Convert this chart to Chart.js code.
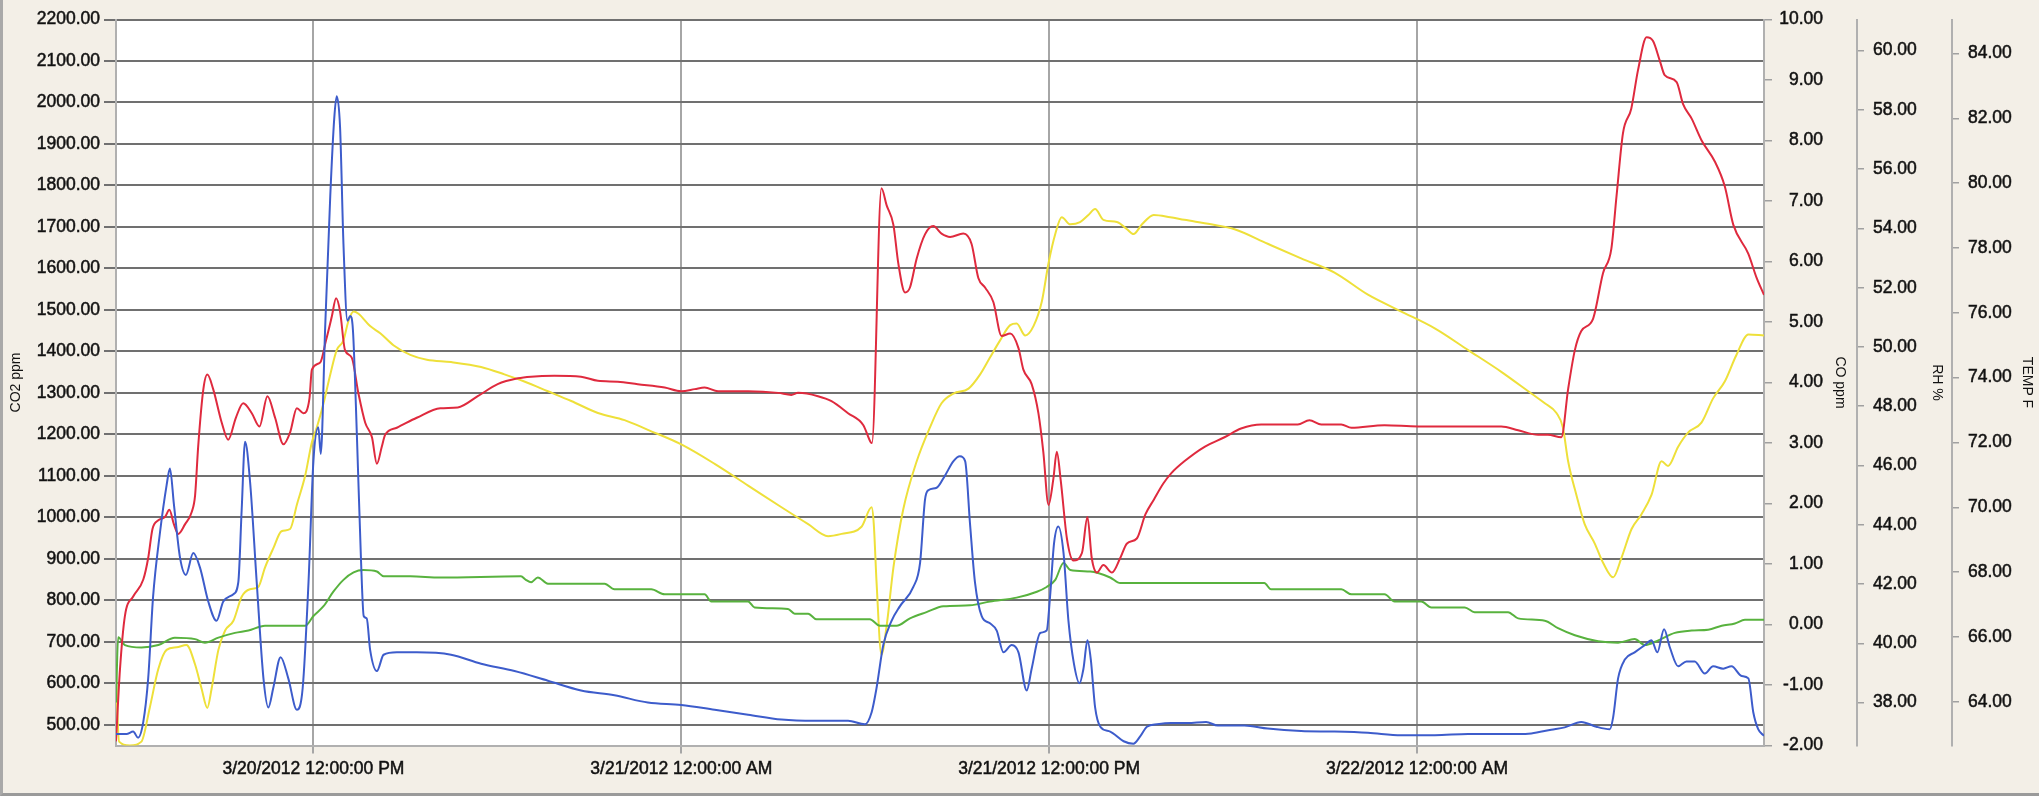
<!DOCTYPE html>
<html>
<head>
<meta charset="utf-8">
<script src="https://cdn.jsdelivr.net/npm/chart.js@4/dist/chart.umd.min.js"></script>
<style>
  html, body { margin: 0; padding: 0; background: #f3efe7; }
  #wrap { position: relative; width: 2039px; height: 796px; }
  #frame { position: absolute; left: 0; top: 0; width: 2039px; height: 796px; box-sizing: border-box;
           border-left: 3px solid #a9a9a9; border-bottom: 3px solid #9a9a9a; pointer-events: none; }
  canvas { display: block; }
</style>
</head>
<body>
<div id="wrap">
  <canvas id="chart" width="2039" height="796"></canvas>
  <div id="frame"></div>
</div>
<script>
// Time axis: hours counted from 3/20/2012 00:00
const timeMin = 5.56;
const timeMax = 59.32;
const timeTickHours = [12, 24, 36, 48];
const timeTickLabels = ['3/20/2012 12:00:00 PM', '3/21/2012 12:00:00 AM', '3/21/2012 12:00:00 PM', '3/22/2012 12:00:00 AM'];

const co2Ticks = [500, 600, 700, 800, 900, 1000, 1100, 1200, 1300, 1400, 1500, 1600, 1700, 1800, 1900, 2000, 2100, 2200];
const coTicks = [-2, -1, 0, 1, 2, 3, 4, 5, 6, 7, 8, 9, 10];
const rhTicks = [38, 40, 42, 44, 46, 48, 50, 52, 54, 56, 58, 60];
const tempTicks = [64, 66, 68, 70, 72, 74, 76, 78, 80, 82, 84];

// CO2 ppm (left axis)
const co2Hours = [5.56,5.69,5.85,6.12,6.45,6.61,6.75,6.94,7.16,7.30,7.45,7.59,7.81,8.03,8.14,8.24,8.41,8.54,8.73,9.01,
  9.22,9.47,9.71,9.99,10.24,10.50,10.75,11.02,11.24,11.46,11.67,11.87,11.95,12.22,12.41,12.60,12.74,12.87,13.03,13.25,
  13.47,13.69,13.91,14.07,14.23,14.34,14.72,15.37,16.14,16.71,17.36,18.01,18.67,19.10,19.86,20.73,21.28,21.93,22.58,23.46,
  24.00,24.44,24.76,25.20,26.18,27.16,27.59,27.81,28.46,28.90,29.44,29.94,30.18,30.22,30.53,30.70,30.92,31.08,31.30,31.46,
  31.68,31.95,32.22,32.49,32.77,33.20,33.47,33.69,33.91,34.18,34.45,34.73,35.00,35.16,35.43,35.65,35.81,35.98,36.14,36.25,
  36.38,36.58,36.79,37.07,37.25,37.39,37.56,37.77,38.05,38.32,38.54,38.86,39.14,39.41,39.73,39.98,40.41,41.07,41.72,42.26,
  42.92,44.11,44.49,44.88,45.53,45.86,46.94,48.03,50.75,51.30,51.95,52.27,52.71,52.93,53.15,53.36,53.74,54.07,54.34,54.51,
  54.72,54.99,55.21,55.49,55.70,55.92,56.08,56.47,56.68,56.96,57.28,57.72,58.04,58.32,58.81,59.08,59.32];
const co2Ppm = [460,634,762,809,850,902,972,993,1001,1018,983,960,983,1013,1053,1170,1309,1344,1309,1228,
  1187,1240,1275,1251,1219,1292,1240,1176,1205,1263,1251,1286,1356,1373,1426,1484,1528,1496,1403,1385,
  1298,1228,1193,1129,1170,1199,1216,1240,1263,1265,1292,1321,1335,1339,1341,1339,1329,1327,1321,1313,
  1304,1309,1313,1304,1304,1300,1295,1300,1292,1280,1251,1222,1181,1179,1793,1752,1705,1612,1542,1554,
  1624,1682,1702,1684,1676,1684,1659,1577,1554,1519,1437,1443,1408,1356,1321,1251,1158,1030,1094,1158,
  1088,949,896,914,1001,902,867,885,867,902,937,949,1007,1042,1082,1106,1135,1170,1193,1214,
  1224,1224,1234,1224,1224,1216,1222,1219,1219,1210,1199,1199,1193,1309,1403,1449,1478,1589,1647,1775,
  1926,1985,2078,2157,2148,2101,2066,2049,1996,1961,1909,1857,1798,1705,1635,1577,1536];

// CO ppm (first right axis)
const coHours = [5.56,5.90,6.12,6.28,6.45,6.61,6.77,6.99,7.21,7.32,7.45,7.65,7.84,8.08,8.30,8.57,8.84,9.06,9.39,9.55,
  9.66,9.77,9.93,10.15,10.37,10.53,10.69,10.93,11.18,11.46,11.65,11.84,12.00,12.16,12.24,12.38,12.55,12.68,12.76,12.87,
  12.98,13.11,13.20,13.29,13.42,13.55,13.64,13.74,13.85,14.07,14.29,14.72,15.37,16.49,17.47,18.56,19.65,20.73,21.82,22.91,
  24.00,25.09,26.18,27.27,28.35,29.44,29.99,30.21,30.37,30.59,30.86,31.13,31.57,31.79,31.95,32.06,32.33,32.60,32.88,33.09,
  33.26,33.42,33.58,33.80,34.07,34.29,34.51,34.78,35.00,35.27,35.43,35.71,35.92,36.03,36.16,36.30,36.47,36.63,36.81,36.99,
  37.12,37.25,37.36,37.50,37.67,37.99,38.43,38.75,38.97,39.19,39.52,39.98,40.52,41.12,41.50,42.37,43.13,44.22,45.31,46.40,
  47.49,48.58,49.67,50.75,51.30,51.73,52.38,52.82,53.36,53.85,54.29,54.40,54.56,54.78,55.10,55.43,55.65,55.84,56.06,56.25,
  56.52,56.79,57.06,57.39,57.66,57.99,58.26,58.59,58.81,58.97,59.13,59.32];
const coPpm = [-1.81,-1.81,-1.77,-1.87,-1.61,-0.89,0.46,1.50,2.30,2.58,1.98,1.10,0.82,1.18,0.94,0.38,0.06,0.38,0.50,0.70,
  1.90,3.02,2.38,0.70,-0.89,-1.37,-1.05,-0.54,-0.89,-1.41,-1.05,0.70,2.70,3.26,2.82,4.86,7.09,8.37,8.73,8.21,
  6.29,5.02,5.10,4.86,3.10,1.10,0.14,0.10,-0.42,-0.77,-0.50,-0.46,-0.46,-0.50,-0.65,-0.77,-0.93,-1.09,-1.17,-1.29,
  -1.33,-1.41,-1.49,-1.57,-1.59,-1.59,-1.65,-1.45,-1.05,-0.34,0.06,0.30,0.62,1.02,2.06,2.22,2.26,2.46,2.70,2.78,
  2.70,1.66,0.70,0.14,0.02,-0.10,-0.46,-0.34,-0.46,-1.09,-0.73,-0.14,-0.10,0.46,1.34,1.62,1.18,0.06,-0.65,-0.97,
  -0.73,-0.26,-0.58,-1.37,-1.69,-1.77,-1.93,-1.97,-1.85,-1.69,-1.65,-1.63,-1.63,-1.61,-1.67,-1.67,-1.72,-1.76,-1.77,-1.79,
  -1.83,-1.83,-1.81,-1.81,-1.81,-1.80,-1.74,-1.70,-1.61,-1.69,-1.73,-1.53,-0.89,-0.58,-0.46,-0.34,-0.26,-0.46,-0.08,-0.38,
  -0.69,-0.61,-0.61,-0.81,-0.69,-0.73,-0.69,-0.85,-0.89,-1.45,-1.73,-1.84];

// RH % (second right axis)
const rhHours = [5.56,5.63,5.85,6.39,6.94,7.48,8.14,8.46,8.90,9.44,9.88,10.42,11.07,11.73,12.00,12.33,12.65,12.98,13.31,13.63,
  14.07,14.29,15.16,16.14,18.77,18.93,19.10,19.32,19.65,21.50,21.82,23.02,23.46,24.76,24.98,26.18,26.39,27.48,27.70,28.14,
  28.41,30.15,30.48,31.02,31.46,32.00,32.55,33.42,34.07,34.94,35.60,35.92,36.20,36.47,36.69,37.34,37.99,38.32,43.02,43.24,
  45.53,45.86,46.94,47.27,48.14,48.47,49.56,49.88,50.97,51.30,52.17,52.60,53.15,53.91,54.56,55.10,55.43,55.87,56.41,56.96,
  57.50,57.94,58.37,58.70,59.32];
const rhPct = [38.0,40.2,39.94,39.86,39.94,40.19,40.14,40.02,40.19,40.35,40.43,40.59,40.59,40.59,40.92,41.25,41.74,42.14,42.39,42.47,
  42.42,42.26,42.26,42.22,42.26,42.14,42.06,42.22,42.01,42.01,41.82,41.82,41.65,41.65,41.41,41.41,41.21,41.16,41.00,41.00,
  40.81,40.81,40.59,40.59,40.84,41.05,41.25,41.28,41.41,41.54,41.74,41.90,42.14,42.71,42.47,42.42,42.22,42.03,42.03,41.82,
  41.82,41.65,41.65,41.41,41.41,41.21,41.21,41.05,41.05,40.84,40.76,40.51,40.27,40.07,40.02,40.14,39.94,40.10,40.35,40.43,
  40.46,40.59,40.67,40.79,40.79];

// TEMP F (outer right axis)
const tempHours = [5.56,5.66,6.01,6.39,6.66,6.94,7.21,7.54,7.86,8.14,8.35,8.54,8.68,8.90,9.12,9.39,9.66,9.93,10.20,10.42,
  10.69,10.96,11.24,11.46,11.73,11.95,12.11,12.33,12.55,12.76,12.98,13.14,13.31,13.47,13.85,14.18,14.61,15.16,15.70,16.49,
  17.47,18.23,18.88,19.65,20.41,21.28,22.15,22.91,24.00,25.09,26.18,27.27,28.14,28.79,29.23,29.88,30.21,30.28,30.37,30.53,
  30.70,30.92,31.24,31.68,32.11,32.49,32.88,33.37,33.75,34.07,34.40,34.73,34.94,35.22,35.49,35.76,35.98,36.20,36.41,36.69,
  37.01,37.28,37.50,37.77,38.21,38.54,38.75,39.03,39.41,39.95,40.41,41.28,42.05,43.13,44.22,45.31,46.40,47.49,48.58,49.67,
  50.75,51.73,52.17,52.55,52.76,52.93,53.20,53.47,53.80,54.07,54.40,54.67,55.00,55.32,55.65,55.98,56.19,56.52,56.85,57.28,
  57.66,58.04,58.42,58.81,59.32];
const tempF = [64.86,62.77,62.65,62.77,63.81,65.01,65.60,65.68,65.75,65.15,64.41,63.81,64.41,65.60,66.20,66.50,67.24,67.47,67.54,68.14,
  68.73,69.26,69.33,70.08,70.97,72.01,72.46,73.21,74.10,74.85,75.15,75.74,76.04,75.97,75.59,75.37,75.00,74.70,74.55,74.48,
  74.33,74.10,73.88,73.58,73.28,72.91,72.69,72.39,71.94,71.34,70.67,70.00,69.48,69.11,69.18,69.40,70.00,69.48,67.69,65.45,
  66.35,68.14,69.93,71.42,72.46,73.21,73.51,73.66,74.10,74.62,75.15,75.62,75.67,75.30,75.59,76.34,77.53,78.43,78.95,78.73,
  78.80,79.02,79.20,78.87,78.80,78.58,78.43,78.73,79.02,78.95,78.87,78.73,78.58,78.13,77.68,77.24,76.56,76.04,75.52,74.85,
  74.18,73.51,73.21,72.91,72.46,71.42,70.38,69.48,68.88,68.29,67.84,68.44,69.33,69.78,70.38,71.42,71.27,71.87,72.31,72.61,
  73.36,73.88,74.70,75.33,75.30];

const pairs = (xs, ys) => xs.map((x, i) => ({ x: x, y: ys[i] }));

const tickFont = { family: "'Liberation Sans', Arial, sans-serif", size: 17.5 };
const titleFont = { family: "'Liberation Sans', Arial, sans-serif", size: 14 };
const textColor = '#111111';
const axisLineColor = '#b0b0b0';

// Shared tick label styling: slightly heavier strokes for the printed look
const tickStyle = (extra) => Object.assign({
  font: tickFont,
  color: textColor,
  textStrokeColor: textColor,
  textStrokeWidth: 0.5
}, extra);

// Paints the plotting region white on top of the page colour
const plotBackground = {
  id: 'plotBackground',
  beforeDraw(chart) {
    const { ctx, chartArea } = chart;
    ctx.save();
    ctx.fillStyle = '#ffffff';
    ctx.fillRect(chartArea.left, chartArea.top, chartArea.right - chartArea.left, chartArea.bottom - chartArea.top);
    ctx.restore();
  }
};

const setTicks = (values) => (axis) => { axis.ticks = values.map(v => ({ value: v })); };

function lineSet(label, points, color, axisId) {
  return {
    label: label,
    data: points,
    yAxisID: axisId,
    borderColor: color,
    backgroundColor: color,
    borderWidth: 2,
    pointRadius: 0,
    fill: false,
    cubicInterpolationMode: 'monotone'
  };
}

new Chart(document.getElementById('chart'), {
  type: 'line',
  data: {
    datasets: [
      lineSet('CO ppm', pairs(coHours, coPpm), '#3d5ccb', 'co'),
      lineSet('CO2 ppm', pairs(co2Hours, co2Ppm), '#df2a3e', 'co2'),
      lineSet('RH %', pairs(rhHours, rhPct), '#58b23e', 'rh'),
      lineSet('TEMP F', pairs(tempHours, tempF), '#eee03a', 'temp')
    ]
  },
  options: {
    responsive: false,
    devicePixelRatio: 1,
    animation: false,
    layout: { padding: { left: 0, right: 0, top: 17, bottom: 0 } },
    plugins: { legend: { display: false }, tooltip: { enabled: false } },
    scales: {
      x: {
        type: 'linear',
        min: timeMin,
        max: timeMax,
        afterBuildTicks: setTicks(timeTickHours),
        afterFit: (axis) => { axis.height = 50.5; },
        ticks: tickStyle({
          autoSkip: false,
          maxRotation: 0,
          padding: 5,
          callback: (v) => timeTickLabels[timeTickHours.indexOf(v)]
        }),
        grid: { color: '#a6a6a6', lineWidth: 2, tickLength: 8 },
        border: { color: axisLineColor, width: 2 }
      },
      co2: {
        type: 'linear',
        position: 'left',
        min: 450,
        max: 2200,
        afterBuildTicks: setTicks(co2Ticks),
        afterFit: (axis) => { axis.width = 116; },
        ticks: tickStyle({ padding: 4, callback: (v) => v.toFixed(2) }),
        grid: { color: '#707070', lineWidth: 2, tickLength: 12 },
        border: { color: axisLineColor, width: 2 },
        title: { display: true, text: 'CO2 ppm', font: titleFont, color: textColor, padding: { top: 7.6, bottom: 0 } }
      },
      co: {
        type: 'linear',
        position: 'right',
        min: -2,
        max: 10,
        afterBuildTicks: setTicks(coTicks),
        // mirrored labels are right-aligned at (left + padding); keep the large padding out of the layout margins
        afterFit: (axis) => { axis.width = 93; axis.paddingTop = 10; axis.paddingBottom = 10; },
        ticks: tickStyle({ mirror: true, padding: 59, callback: (v) => v.toFixed(2) }),
        grid: { drawOnChartArea: false, color: '#a0a0a0', lineWidth: 1.5, tickLength: 8 },
        border: { color: axisLineColor, width: 2 },
        title: { display: true, text: 'CO ppm', font: titleFont, color: textColor, padding: { top: 8.6, bottom: 0 } }
      },
      rh: {
        type: 'linear',
        position: 'right',
        min: 36.55,
        max: 61.05,
        afterBuildTicks: setTicks(rhTicks),
        afterFit: (axis) => { axis.width = 95; },
        ticks: tickStyle({ padding: 9, callback: (v) => v.toFixed(2) }),
        grid: { drawOnChartArea: false, color: '#a0a0a0', lineWidth: 1.5, tickLength: 7 },
        border: { color: axisLineColor, width: 2 },
        title: { display: true, text: 'RH %', font: titleFont, color: textColor, padding: { top: 6.6, bottom: 0 } }
      },
      temp: {
        type: 'linear',
        position: 'right',
        min: 62.65,
        max: 85.05,
        afterBuildTicks: setTicks(tempTicks),
        afterFit: (axis) => { axis.width = 87; },
        ticks: tickStyle({ padding: 9, callback: (v) => v.toFixed(2) }),
        grid: { drawOnChartArea: false, color: '#a0a0a0', lineWidth: 1.5, tickLength: 7 },
        border: { color: axisLineColor, width: 2 },
        title: { display: true, text: 'TEMP F', font: titleFont, color: textColor, padding: { top: 3.6, bottom: 0 } }
      }
    }
  },
  plugins: [plotBackground]
});
</script>
</body>
</html>
